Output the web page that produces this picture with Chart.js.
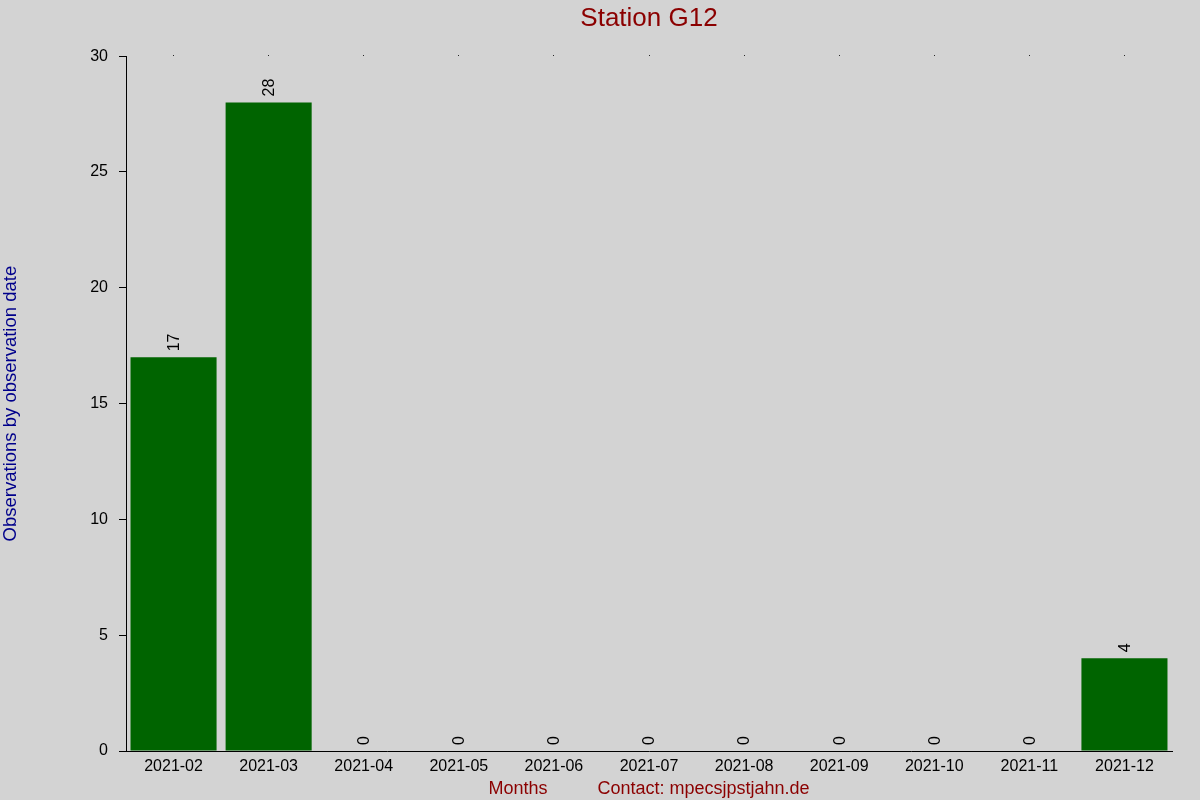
<!DOCTYPE html>
<html>
<head>
<meta charset="utf-8">
<script src="https://cdn.jsdelivr.net/npm/chart.js@4/dist/chart.umd.min.js"></script>
<style>
  html,body{margin:0;padding:0;background:#d3d3d3;}
  canvas{display:block;}
</style>
</head>
<body>
<canvas id="c" width="1200" height="800"></canvas>
<script>
// data
const months = ['2021-02','2021-03','2021-04','2021-05','2021-06','2021-07','2021-08','2021-09','2021-10','2021-11','2021-12'];
const counts = [17, 28, 0, 0, 0, 0, 0, 0, 0, 0, 4];
const yTicks = [0, 5, 10, 15, 20, 25, 30];

const titleText = 'Station G12';
const yTitle = 'Observations by observation date';
const xTitle = 'Months          Contact: mpecsjpstjahn.de';

const FONT = '"Liberation Sans", Arial, sans-serif';

// rotated value labels above each bar
const barLabels = {
  id: 'barLabels',
  afterDatasetsDraw(chart){
    const {ctx} = chart;
    const meta = chart.getDatasetMeta(0);
    ctx.save();
    ctx.font = '16px ' + FONT;
    ctx.fillStyle = '#000';
    ctx.textAlign = 'left';
    ctx.textBaseline = 'middle';
    meta.data.forEach((bar, i) => {
      ctx.save();
      ctx.translate(bar.x, bar.y - 6);
      ctx.rotate(-Math.PI/2);
      ctx.fillText(String(counts[i]), 0, 1);
      ctx.restore();
    });
    ctx.restore();
  }
};

new Chart(document.getElementById('c'), {
  type: 'bar',
  data: {
    labels: months,
    datasets: [{
      data: counts,
      backgroundColor: '#006400',
      borderWidth: 0,
      barPercentage: 0.905,
      categoryPercentage: 1.0
    }]
  },
  options: {
    responsive: false,
    devicePixelRatio: 1,
    animation: false,
    layout: { padding: { top: 0, right: 28, bottom: 0, left: 0 } },
    plugins: {
      legend: { display: false },
      tooltip: { enabled: false },
      title: {
        display: true,
        text: titleText,
        color: '#8b0000',
        fullSize: false,
        font: { family: FONT, size: 26, weight: 'normal' },
        padding: { top: 3, bottom: 0 }
      }
    },
    scales: {
      x: {
        type: 'category',
        position: 'bottom',
        offset: true,
        afterFit: s => { s.height = 49; },
        grid: { display: false, drawTicks: false },
        border: { display: true, color: '#000', width: 1 },
        ticks: { color: '#000', padding: 6, maxRotation: 0, font: { family: FONT, size: 16 } },
        title: {
          display: true,
          text: xTitle,
          color: '#8b0000',
          padding: { top: 2, bottom: 0 },
          font: { family: FONT, size: 18 }
        }
      },
      x2: {
        type: 'category',
        position: 'top',
        labels: months,
        offset: true,
        afterFit: s => { s.height = 22; },
        grid: { display: true, offset: false, drawOnChartArea: false, tickLength: 1, color: '#000' },
        border: { display: false },
        ticks: { display: false }
      },
      y: {
        min: 0,
        max: 30,
        afterFit: s => { s.width = 126; },
        afterBuildTicks: s => { s.ticks = yTicks.map(v => ({ value: v })); },
        grid: { display: true, drawOnChartArea: false, tickLength: 7, color: '#000' },
        border: { display: true, color: '#000', width: 1 },
        ticks: { color: '#000', padding: 11, font: { family: FONT, size: 16 } },
        title: {
          display: true,
          text: yTitle,
          color: '#00008b',
          padding: { top: 0, bottom: 0 },
          font: { family: FONT, size: 18.5 }
        }
      }
    }
  },
  plugins: [barLabels]
});
</script>
</body>
</html>
